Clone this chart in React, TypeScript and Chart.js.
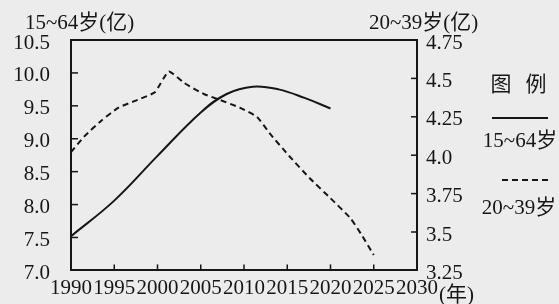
import React, { useEffect, useRef } from "react";
import { Chart, registerables } from "chart.js";

Chart.register(...registerables);

// ---- data ----
const years1564 = [1990, 1995, 2000, 2005, 2008, 2011, 2014, 2017, 2020];
const pop1564 = [7.52, 8.06, 8.74, 9.4, 9.68, 9.79, 9.75, 9.62, 9.46];

const years2039 = [1990, 1991.5, 1993.5, 1995.5, 1997.7, 1999.7, 2001.3, 2003.1, 2005.3, 2007.2, 2009.5, 2011.5, 2013, 2015.3, 2017.6, 2020, 2022.3, 2023.5, 2025];
const pop2039 = [4.02, 4.12, 4.225, 4.31, 4.36, 4.41, 4.545, 4.47, 4.4, 4.36, 4.31, 4.25, 4.14, 3.99, 3.85, 3.72, 3.59, 3.49, 3.35];

const xTickYears = [1990, 1995, 2000, 2005, 2010, 2015, 2020, 2025, 2030];
const leftTicks = [7.0, 7.5, 8.0, 8.5, 9.0, 9.5, 10.0, 10.5];
const rightTicks = [3.25, 3.5, 3.75, 4.0, 4.25, 4.5, 4.75];
const rightTickLabels = ["3.25", "3.5", "3.75", "4.0", "4.25", "4.5", "4.75"];

const seriesNames = ["15~64岁", "20~39岁"];
const leftAxisTitle = "15~64岁(亿)";
const rightAxisTitle = "20~39岁(亿)";
const xUnit = "(年)";
const legendTitleChars = ["图", "例"];

const INK = "#161616";
const BG = "#ececec";
const FONT_FAMILY = '"Liberation Serif", "Noto Sans CJK SC", serif';
const FS = 21;

const overlayPlugin = {
  id: "overlay",
  afterDraw(chart: any) {
    const ctx = chart.ctx;
    const ca = chart.chartArea;
    const sx = chart.scales.x;
    const sy = chart.scales.y;
    const sy2 = chart.scales.y2;
    ctx.save();
    ctx.strokeStyle = INK;
    ctx.lineWidth = 2;
    // top frame line
    ctx.beginPath();
    ctx.moveTo(ca.left - 1, ca.top);
    ctx.lineTo(ca.right + 1, ca.top);
    ctx.stroke();
    // inner tick marks
    ctx.lineWidth = 1.5;
    xTickYears.slice(1, -1).forEach((v) => {
      const px = sx.getPixelForValue(v);
      ctx.beginPath();
      ctx.moveTo(px, ca.bottom);
      ctx.lineTo(px, ca.bottom - 6);
      ctx.stroke();
    });
    leftTicks.slice(1, -1).forEach((v) => {
      const py = sy.getPixelForValue(v);
      ctx.beginPath();
      ctx.moveTo(ca.left, py);
      ctx.lineTo(ca.left + 7, py);
      ctx.stroke();
    });
    rightTicks.slice(1, -1).forEach((v) => {
      const py = sy2.getPixelForValue(v);
      ctx.beginPath();
      ctx.moveTo(ca.right, py);
      ctx.lineTo(ca.right - 6, py);
      ctx.stroke();
    });

    // titles
    ctx.fillStyle = INK;
    ctx.font = FS + "px " + FONT_FAMILY;
    ctx.textBaseline = "middle";
    ctx.textAlign = "left";
    ctx.fillText(leftAxisTitle, 25, 23);
    ctx.fillText(rightAxisTitle, 369, 23);
    // x unit after last tick label
    ctx.fillText(xUnit, sx.getPixelForValue(2030) + 22, 295);

    // legend
    ctx.textAlign = "center";
    ctx.fillText(legendTitleChars[0], 501, 85);
    ctx.fillText(legendTitleChars[1], 536, 85);
    ctx.lineWidth = 2;
    ctx.setLineDash([]);
    ctx.beginPath();
    ctx.moveTo(492, 118);
    ctx.lineTo(548, 118);
    ctx.stroke();
    ctx.fillText(chart.data.datasets[0].label, 520, 141);
    ctx.setLineDash([6, 4]);
    ctx.beginPath();
    ctx.moveTo(502, 180);
    ctx.lineTo(550, 180);
    ctx.stroke();
    ctx.setLineDash([]);
    ctx.fillText(chart.data.datasets[1].label, 519, 208);
    ctx.restore();
  },
};

export default function App() {
  const ref = useRef<HTMLCanvasElement | null>(null);
  useEffect(() => {
    document.body.style.margin = "0";
    document.body.style.background = BG;
    const canvas = ref.current!;
    const chart = new Chart(canvas, {
      type: "line",
      data: {
        datasets: [
          {
            label: seriesNames[0],
            data: years1564.map((x, i) => ({ x, y: pop1564[i] })),
            yAxisID: "y",
            borderColor: INK,
            borderWidth: 2,
            pointRadius: 0,
            tension: 0.4,
            fill: false,
          },
          {
            label: seriesNames[1],
            data: years2039.map((x, i) => ({ x, y: pop2039[i] })),
            yAxisID: "y2",
            borderColor: INK,
            borderWidth: 2,
            borderDash: [6, 4],
            pointRadius: 0,
            tension: 0.15,
            fill: false,
          },
        ],
      },
      options: {
        animation: false,
        responsive: false,
        devicePixelRatio: 1,
        layout: { padding: { top: 40, left: 0, right: 0, bottom: 0 } },
        plugins: { legend: { display: false }, tooltip: { enabled: false } },
        scales: {
          x: {
            type: "linear",
            position: "bottom",
            min: 1990,
            max: 2030,
            afterBuildTicks: (s: any) => {
              s.ticks = xTickYears.map((v) => ({ value: v }));
            },
            afterFit: (s: any) => {
              s.height = 26;
            },
            ticks: {
              autoSkip: false,
              maxRotation: 0,
              padding: 5,
              color: INK,
              font: { family: FONT_FAMILY, size: FS },
              callback: (v: any) => String(v),
            },
            grid: { display: false, drawTicks: false },
            border: { display: true, color: INK, width: 2 },
          },
          y: {
            position: "left",
            min: 7,
            max: 10.5,
            afterBuildTicks: (s: any) => {
              s.ticks = leftTicks.map((v) => ({ value: v }));
            },
            afterFit: (s: any) => {
              s.width = 71;
            },
            ticks: {
              padding: 21,
              labelOffset: 3,
              color: INK,
              font: { family: FONT_FAMILY, size: FS },
              callback: (v: any) => Number(v).toFixed(1),
            },
            grid: { display: false, drawTicks: false },
            border: { display: true, color: INK, width: 2 },
          },
          y2: {
            position: "right",
            min: 3.25,
            max: 4.75,
            afterBuildTicks: (s: any) => {
              s.ticks = rightTicks.map((v) => ({ value: v }));
            },
            afterFit: (s: any) => {
              s.width = 142;
            },
            ticks: {
              padding: 9,
              labelOffset: 3,
              color: INK,
              font: { family: FONT_FAMILY, size: FS },
              callback: (v: any) => {
                const i = rightTicks.findIndex((t) => Math.abs(t - Number(v)) < 1e-6);
                return i >= 0 ? rightTickLabels[i] : "";
              },
            },
            grid: { display: false, drawTicks: false },
            border: { display: true, color: INK, width: 2 },
          },
        },
      },
      plugins: [overlayPlugin],
    } as any);
    return () => chart.destroy();
  }, []);
  return (
    <div style={{ position: "absolute", left: 0, top: 0, width: 559, height: 304, background: BG }}>
      <canvas ref={ref} width={559} height={304} style={{ display: "block" }} />
    </div>
  );
}
